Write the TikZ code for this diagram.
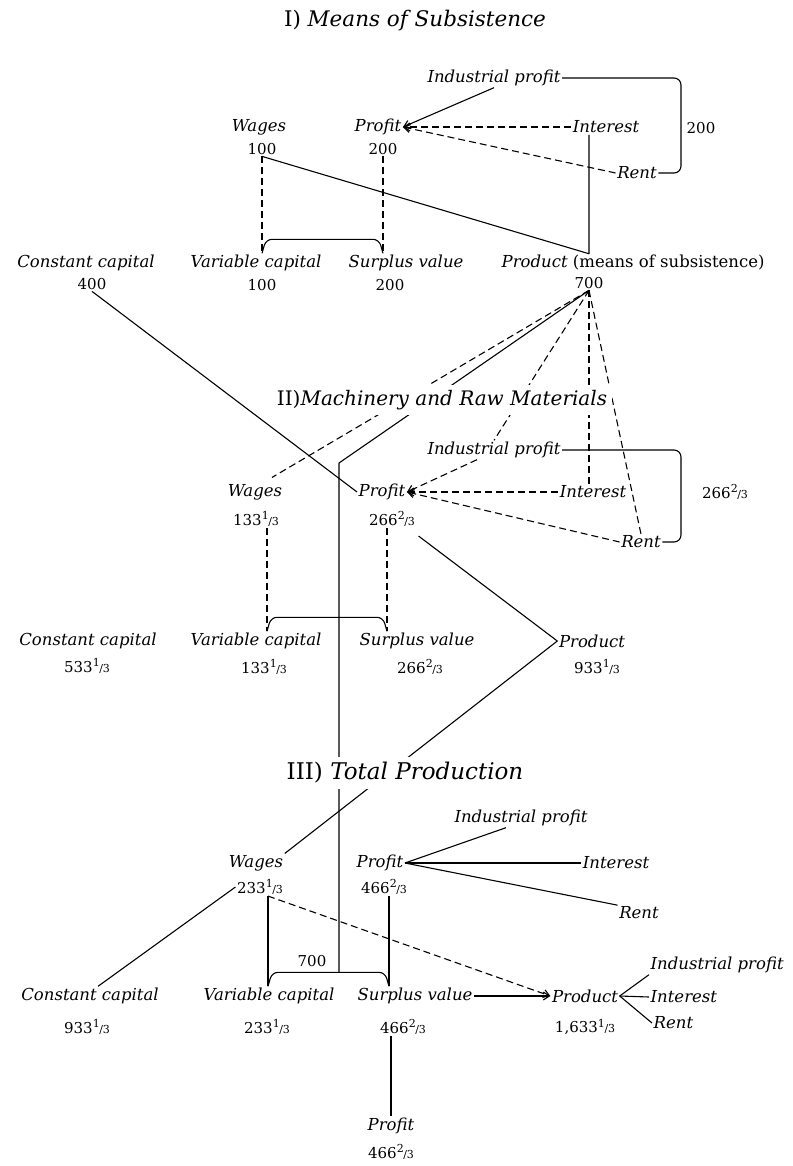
\documentclass[tikz,border=0pt]{standalone}
\usepackage{fontspec}
\setmainfont{DejaVu Serif}
\usetikzlibrary{arrows.meta,calc}

\newcommand\labfont{\fontsize{16.5}{18}\selectfont\itshape}
\newcommand\numfont{\fontsize{15}{17}\selectfont\upshape}
% mixed number fraction: raised numerator, slash, small denominator
\newcommand\frx[1]{{\fontsize{11}{11}\selectfont\raisebox{5.5pt}{#1}\kern-0.3pt/\kern-0.3pt3}}

\begin{document}
\begin{tikzpicture}[x=1pt,y=-1pt,
  lab/.style={font=\labfont,inner sep=1.5pt},
  num/.style={font=\numfont,inner sep=1.5pt},
  ttl/.style={fill=white,inner sep=5pt},
  ln/.style={line width=1.1pt},
  dsh/.style={line width=1.1pt,dash pattern=on 7pt off 4pt},
  arr/.style={-{Straight Barb[length=6pt,width=8pt]}},
  line join=round]

\fill[white] (0,0) rectangle (792,1166);
\useasboundingbox (0,0) rectangle (792,1166);

% ---------- I) Means of subsistence ----------
\node[lab] (ip1) at (494,78) {Industrial profit};
\node[lab] (wg1) at (259,127) {Wages};
\node[num] (wg1n) at (262,149) {100};
\node[lab] (pf1) at (378,127) {Profit};
\node[num] (pf1n) at (383,149) {200};
\node[lab] (in1) at (606,127) {Interest};
\node[lab] (rt1) at (637,173) {Rent};
\node[num] (sm1) at (701,128) {200};
\node[lab] (cc1) at (86,263) {Constant capital};
\node[num] (cc1n) at (92,284) {400};
\node[lab] (vc1) at (256,263) {Variable capital};
\node[num] (vc1n) at (262,285) {100};
\node[lab] (sv1) at (406,263) {Surplus value};
\node[num] (sv1n) at (390,285) {200};
\node[lab,anchor=west] (pr1) at (500,263) {Product \upshape(means of subsistence)};
\node[num] (pr1n) at (589,283) {700};

\draw[ln,arr] (ip1.south) -- (pf1.east);
\draw[dsh,arr] (in1.west) -- (pf1.east);
\draw[dsh,arr] (rt1.west) -- (pf1.east);
\coordinate (br1) at (681,0);
\draw[ln,rounded corners=7] (ip1.east) -- (ip1.east -| br1) -- (rt1.east -| br1) -- (rt1.east);

\coordinate (m1) at (pr1n.north |- pr1.north);
\draw[ln] (wg1n.south) -- (m1) -- (m1 |- in1.south);

\coordinate (b1l) at (wg1n.south |- vc1.north);
\coordinate (b1r) at (pf1n.south |- sv1.north);
\draw[dsh] (wg1n.south) -- (b1l);
\draw[dsh] (pf1n.south) -- (b1r);
\draw[ln,rounded corners=6] (b1l) -- ++(4,-14) -- ($(b1r)+(-4,-14)$) -- (b1r);

% ---------- II) Machinery and raw materials ----------
\node[lab] (ip2) at (494,450) {Industrial profit};
\node[lab] (wg2) at (255,492) {Wages};
\node[num] (wg2n) at (256,519) {133\frx{1}};
\node[lab] (pf2) at (382,492) {Profit};
\node[num] (pf2n) at (392,519) {266\frx{2}};
\node[lab] (in2) at (593,492) {Interest};
\node[lab] (rt2) at (641,542) {Rent};
\node[num] (sm2) at (725,492) {266\frx{2}};
\node[lab] (cc2) at (88,641) {Constant capital};
\node[num] (cc2n) at (87,666) {533\frx{1}};
\node[lab] (vc2) at (256,641) {Variable capital};
\node[num] (vc2n) at (264,667) {133\frx{1}};
\node[lab] (sv2) at (417,641) {Surplus value};
\node[num] (sv2n) at (420,667) {266\frx{2}};
\node[lab] (pr2) at (592,641) {Product};
\node[num] (pr2n) at (597,667) {933\frx{1}};

\coordinate (ap) at (pr1n.south);
\coordinate (k2) at (339,463);
\draw[ln] (cc1n.south) -- (pf2.west);
\draw[dsh] (ap) -- ($(wg2.north)+(17,-5)$);
\draw[dsh] (ap) -- (ip2.north);
\draw[dsh] (ap) -- (ap |- in2.north);
\draw[dsh] (ap) -- (rt2.north);

\draw[dsh,arr] ($(ip2.south)+(-17,0)$) -- (pf2.east);
\draw[dsh,arr] (in2.west) -- (pf2.east);
\draw[dsh,arr] (rt2.west) -- (pf2.east);
\draw[ln,rounded corners=7] (ip2.east) -- (ip2.east -| br1) -- (rt2.east -| br1) -- (rt2.east);

\coordinate (w2b) at ($(wg2n.south)+(11,0)$);
\coordinate (p2b) at ($(pf2n.south)+(-5,0)$);
\coordinate (b2l) at (w2b |- vc2.north);
\coordinate (b2r) at (p2b |- sv2.north);
\draw[dsh] (w2b) -- (b2l);
\draw[dsh] (p2b) -- (b2r);
\draw[ln,rounded corners=6] (b2l) -- ++(4,-14) -- ($(b2r)+(-4,-14)$) -- (b2r);

% ---------- III) Total production ----------
\node[lab] (ip3) at (521,818) {Industrial profit};
\node[lab] (wg3) at (256,863) {Wages};
\node[num] (wg3n) at (260,887) {233\frx{1}};
\node[lab] (pf3) at (380,863) {Profit};
\node[num] (pf3n) at (384,887) {466\frx{2}};
\node[lab] (in3) at (616,863) {Interest};
\node[lab] (rt3) at (639,913) {Rent};
\node[lab] (cc3) at (90,996) {Constant capital};
\node[num] (cc3n) at (87,1027) {933\frx{1}};
\node[lab] (vc3) at (269,996) {Variable capital};
\node[num] (vc3n) at (267,1027) {233\frx{1}};
\node[lab] (sv3) at (415,996) {Surplus value};
\node[num] (sv3n) at (403,1027) {466\frx{2}};
\node[lab] (pr3) at (585,996) {Product};
\node[num] (pr3n) at (585,1027) {1,633\frx{1}};
\node[lab,anchor=west] (ip3b) at (649,965) {Industrial profit};
\node[lab,anchor=west] (in3b) at (649,997) {Interest};
\node[lab,anchor=west] (rt3b) at (652,1023) {Rent};
\node[num] (s700) at (312,961) {700};
\node[lab] (pf4) at (391,1126) {Profit};
\node[num] (pf4n) at (391,1152) {466\frx{2}};

\coordinate (p2s) at ($(pf2n.south east)+(2,8)$);
\draw[ln] (p2s) -- (pr2.west) -- (wg3.north east);

\draw[ln] (pf3.east) -- ($(ip3.south)+(-15,0)$);
\draw[ln] (pf3.east) -- (in3.west);
\draw[ln] (pf3.east) -- (rt3.north west);

\draw[ln] ($(cc3.north)+(8,0)$) -- (wg3n.west);

\coordinate (w3b) at ($(wg3n.south)+(8,0)$);
\coordinate (p3b) at ($(pf3n.south)+(5,0)$);
\coordinate (b3l) at (w3b |- vc3.north);
\coordinate (b3r) at (p3b |- sv3.north);
\draw[ln] (w3b) -- (b3l);
\draw[ln] (p3b) -- (b3r);
\draw[ln,rounded corners=6] (b3l) -- ++(4,-14) -- ($(b3r)+(-4,-14)$) -- (b3r);
\draw[ln] (ap) -- (k2) -- (k2 |- {$(b3l)+(0,-14)$});

\draw[dsh,arr] (w3b) -- (pr3.west);
\draw[ln,arr] (sv3.east) -- (pr3.west);
\draw[ln] (ip3b.south west) -- (pr3.east) -- (rt3b.west);
\draw[ln] (pr3.east) -- (in3b.west);

\draw[ln] (pf4.north |- sv3n.south) -- (pf4.north);

% ---------- section titles (drawn last, they break the lines crossing them) ----------
\node[ttl] (t1) at (415,21) {\fontsize{21.5}{24}\selectfont I) \itshape Means of Subsistence};
\node[ttl] (t2) at (442,400) {\fontsize{20}{24}\selectfont II)\itshape Machinery and Raw Materials};
\node[ttl] (t3) at (405,773) {\fontsize{23}{25}\selectfont III) \itshape Total Production};
\end{tikzpicture}
\end{document}
